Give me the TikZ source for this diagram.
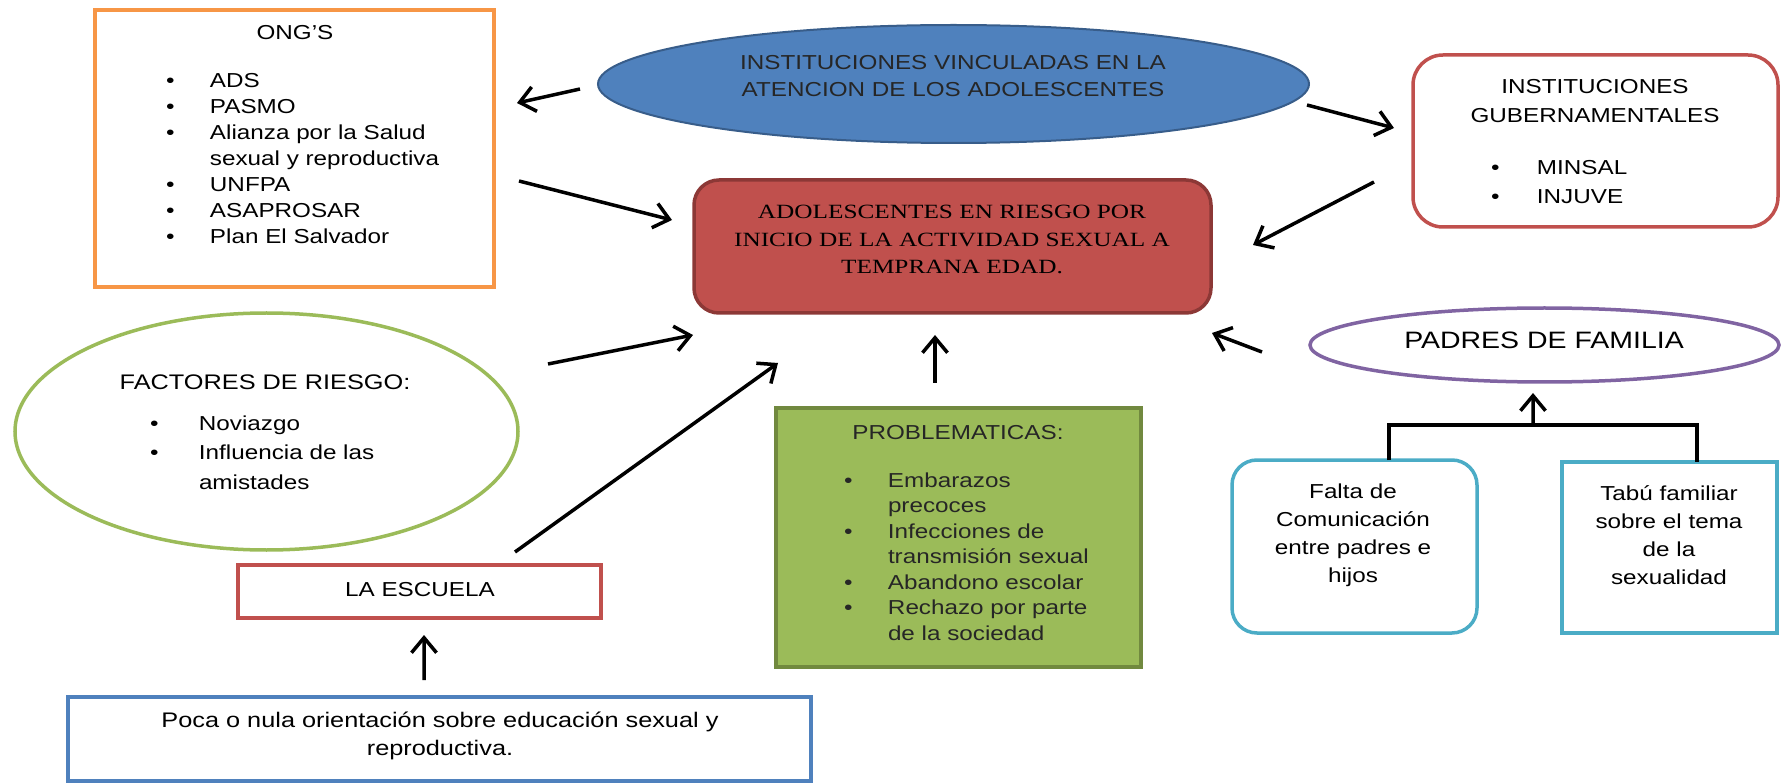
\documentclass[tikz,border=0pt]{standalone}
\usepackage{fontspec}
\setmainfont{Liberation Sans}[FakeStretch=1.2]
\newfontfamily\riskfont{Liberation Serif}[FakeStretch=1.25]
\usetikzlibrary{calc,shapes.geometric,arrows.meta}

\definecolor{ongorange}{HTML}{F79646}
\definecolor{instblue}{HTML}{4F81BD}
\definecolor{instborder}{HTML}{385D8A}
\definecolor{riskred}{HTML}{C0504D}
\definecolor{riskborder}{HTML}{8C3836}
\definecolor{facgreen}{HTML}{9BBB59}
\definecolor{probborder}{HTML}{71893F}
\definecolor{padpurple}{HTML}{8064A2}
\definecolor{famteal}{HTML}{4BACC6}

% bullet and indent for the lists
\newcommand{\bl}[1][8.8mm]{\makebox[#1][l]{\textbullet}}
\newcommand{\nb}[1][8.8mm]{\hspace*{#1}}

\begin{document}
\begin{tikzpicture}[every node/.style={inner sep=0pt,outer sep=0pt,font=\fontsize{11.5pt}{14.8pt}\selectfont}, >={Straight Barb[length=3mm,width=5mm]}]

\useasboundingbox (0,0) rectangle (357.2mm,-156.8mm);

\tikzstyle{frame}=[draw,line width=0.7mm]
\tikzstyle{arr}=[->,line width=0.7mm,black]
\tikzstyle{lst}=[anchor=west,align=left]
\tikzstyle{txt}=[align=center]

%%%%%%%%%%%%%%%%%%%%%%%%%%%%%%%%%%%%%%%%%%%%%%%%%%%%%%%%%%%%%%%%
%
%       Boxes and ellipses
%
\node (ong)  [frame,draw=ongorange,line width=0.9mm,minimum width=79.8mm,minimum height=55.4mm] at (58.9mm,-29.7mm) {};
\node (inst) [ellipse,draw=instborder,line width=0.4mm,fill=instblue,minimum width=142.2mm,minimum height=23.6mm] at (190.7mm,-16.8mm) {};
\node (gub)  [frame,draw=riskred,rounded corners=6mm,minimum width=73mm,minimum height=34.4mm] at (319.1mm,-28.2mm) {};
\node (risk) [frame,draw=riskborder,fill=riskred,rounded corners=5mm,minimum width=103.4mm,minimum height=26.6mm] at (190.5mm,-49.3mm) {};
\node (fac)  [ellipse,frame,draw=facgreen,minimum width=100.6mm,minimum height=47.4mm] at (53.3mm,-86.3mm) {};
\node (escuela) [frame,draw=riskred,minimum width=72.6mm,minimum height=10.6mm] at (83.9mm,-118.3mm) {};
\node (poca) [frame,draw=instblue,minimum width=148.6mm,minimum height=16.8mm] at (87.9mm,-147.8mm) {};
\node (prob) [frame,draw=probborder,fill=facgreen,minimum width=73mm,minimum height=51.8mm] at (191.7mm,-107.5mm) {};
\node (padres) [ellipse,frame,draw=padpurple,minimum width=93.8mm,minimum height=14.8mm] at (308.9mm,-69mm) {};
\node (falta) [frame,draw=famteal,rounded corners=5mm,minimum width=49mm,minimum height=34.6mm] at (270.9mm,-109.3mm) {};
\node (tabu) [frame,draw=famteal,minimum width=43mm,minimum height=34.2mm] at (333.9mm,-109.5mm) {};

%%%%%%%%%%%%%%%%%%%%%%%%%%%%%%%%%%%%%%%%%%%%%%%%%%%%%%%%%%%%%%%%
%
%       Texts
%
\node (ongtitle) at (59mm,-6.6mm) {ONG'S};
\node (onglist) [lst] at (33.2mm,-31.7mm) {\bl ADS\\ \bl PASMO\\ \bl Alianza por la Salud\\ \nb sexual y reproductiva\\ \bl UNFPA\\ \bl ASAPROSAR\\ \bl Plan El Salvador};

\node (insttext) [txt,text=black!85,font=\fontsize{11.5pt}{15.4pt}\selectfont] at (190.6mm,-15.3mm) {INSTITUCIONES VINCULADAS EN LA\\ATENCION DE LOS ADOLESCENTES};

\node (risktext) [txt,font=\riskfont\fontsize{11.5pt}{15.5pt}\selectfont] at (190.4mm,-47.9mm) {ADOLESCENTES EN RIESGO POR\\INICIO DE LA ACTIVIDAD SEXUAL A\\TEMPRANA EDAD.};

\node (gubtitle) [txt,font=\fontsize{11.5pt}{16pt}\selectfont] at (319mm,-20.2mm) {INSTITUCIONES\\GUBERNAMENTALES};
\node (gublist) [lst,font=\fontsize{11.5pt}{17pt}\selectfont] at (298.2mm,-36.4mm) {\bl[9.2mm]MINSAL\\ \bl[9.2mm]INJUVE};

\node (factitle) [font=\fontsize{12pt}{15pt}\selectfont] at (53mm,-76.4mm) {FACTORES DE RIESGO:};
\node (faclist) [lst,font=\fontsize{11.5pt}{16.8pt}\selectfont] at (30mm,-90.5mm) {\bl[9.8mm]Noviazgo\\ \bl[9.8mm]Influencia de las\\ \nb[9.8mm]amistades};

\node (escuelatext) at (84mm,-118mm) {LA ESCUELA};
\node (pocatext) [txt,font=\fontsize{12pt}{16pt}\selectfont] at (88mm,-147.2mm) {Poca o nula orientación sobre educación sexual y\\reproductiva.};

\node (probtitle) [text=black!85] at (191.6mm,-86.6mm) {PROBLEMATICAS:};
\node (problist) [lst,text=black!85,font=\fontsize{11.5pt}{14.5pt}\selectfont] at (168.8mm,-111.3mm) {\bl Embarazos\\ \nb precoces\\ \bl Infecciones de\\ \nb transmisión sexual\\ \bl Abandono escolar\\ \bl Rechazo por parte\\ \nb de la sociedad};

\node (padrestext) [font=\fontsize{13.5pt}{15pt}\selectfont] at (308.8mm,-68mm) {PADRES DE FAMILIA};
\node (faltatext) [txt,font=\fontsize{11.5pt}{16pt}\selectfont] at (270.6mm,-107mm) {Falta de\\Comunicación\\entre padres e\\hijos};
\node (tabutext) [txt,font=\fontsize{11.5pt}{16pt}\selectfont] at (333.8mm,-107mm) {Tabú familiar\\sobre el tema\\de la\\sexualidad};

%%%%%%%%%%%%%%%%%%%%%%%%%%%%%%%%%%%%%%%%%%%%%%%%%%%%%%%%%%%%%%%%
%
%       Arrows
%
\draw [arr] ($(inst.west)+(-3.6mm,-1mm)$) -- ($(ong.east)+(4.6mm,9.1mm)$);
\draw [arr] ($(ong.east)+(5mm,-6.5mm)$) -- ($(risk.west)+(-4.4mm,5.3mm)$);
\draw [arr] ($(inst.east)+(-0.4mm,-4.2mm)$) -- ($(gub.west)+(-3.8mm,2.6mm)$);
\draw [arr] ($(gub.west)+(-7.8mm,-8.2mm)$) -- ($(risk.east)+(8.4mm,0.3mm)$);
\draw [arr] ($(fac.east)+(6mm,13.5mm)$) -- ($(risk.south west)+(-0.2mm,-4.4mm)$);
\draw [arr] ($(escuela.north east)+(-17.2mm,2.6mm)$) -- ($(risk.south west)+(16.8mm,-10mm)$);
\draw [arr] ($(prob.north)+(-4.7mm,5mm)$) -- ($(risk.south)+(-3.5mm,-4.4mm)$);
\draw [arr] ($(padres.west)+(-9.6mm,-1.4mm)$) -- ($(risk.south east)+(0.2mm,-4mm)$);
\draw [arr] ($(poca.north)+(-3.1mm,3.4mm)$) -- ($(escuela.south)+(0.9mm,-3.4mm)$);

% family branch
\coordinate (join) at (306.6mm,-85mm);
\draw [line width=0.8mm] ([xshift=6.9mm]falta.north) |- (join) -| ([xshift=5.5mm]tabu.north);
\draw [arr] (join) -- ($(padres.south)+(-2.3mm,-2.2mm)$);

\end{tikzpicture}
\end{document}
